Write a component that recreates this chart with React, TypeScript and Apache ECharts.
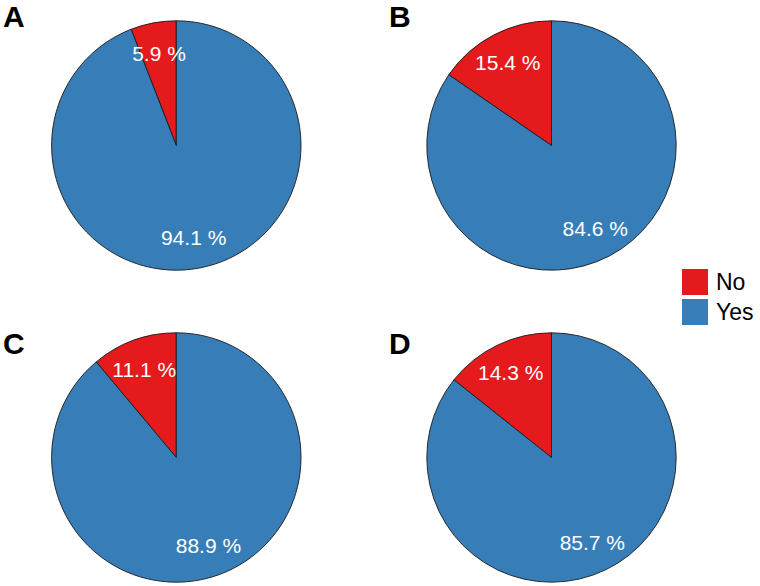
import React, { useEffect, useRef } from "react";
import * as echarts from "echarts";

const categories = ["No", "Yes"];
const panelLabels = ["A", "B", "C", "D"];
const noValues = [5.9, 15.4, 11.1, 14.3];
const yesValues = [94.1, 84.6, 88.9, 85.7];
const colors = ["#E41A1C", "#377EB8"];

const centers: [number, number][] = [
  [176.3, 145.5],
  [551.5, 145.5],
  [176.3, 457.5],
  [551.5, 457.5],
];
const letterPos: [number, number][] = [
  [3, 16],
  [389, 16],
  [3, 343],
  [389, 343],
];
const R = 124.7;
const FONT = "'Liberation Sans', Arial, Helvetica, sans-serif";

export default function App() {
  const ref = useRef<HTMLDivElement>(null);
  useEffect(() => {
    if (!ref.current) return;
    const chart = echarts.init(ref.current, null, { renderer: "svg" });
    const series: any[] = [];
    panelLabels.forEach((_, i) => {
      const data = categories.map((c, k) => ({
        name: c,
        value: k === 0 ? noValues[i] : yesValues[i],
        itemStyle: { color: colors[k] },
      }));
      series.push({
        type: "pie",
        center: centers[i],
        radius: [0, R],
        clockwise: false,
        startAngle: 90,
        silent: true,
        label: { show: false },
        labelLine: { show: false },
        itemStyle: { borderColor: "#1a1a1a", borderWidth: 0.9 },
        emphasis: { disabled: true },
        data,
      });
      series.push({
        type: "pie",
        center: centers[i],
        radius: [2 * 91 - R, R],
        clockwise: false,
        startAngle: 90,
        silent: true,
        avoidLabelOverlap: false,
        label: {
          show: true,
          position: "inside",
          color: "#ffffff",
          fontSize: 21,
          fontFamily: FONT,
          formatter: (p: any) => p.value.toFixed(1) + " %",
        },
        labelLine: { show: false },
        itemStyle: { color: "rgba(0,0,0,0)", borderWidth: 0 },
        emphasis: { disabled: true },
        data: categories.map((c, k) => ({
          name: c,
          value: k === 0 ? noValues[i] : yesValues[i],
        })),
      });
    });

    chart.setOption({
      animation: false,
      backgroundColor: "#ffffff",
      legend: {
        orient: "vertical",
        left: 677,
        top: 264,
        itemWidth: 26,
        itemHeight: 26,
        itemGap: 4,
        icon: "rect",
        selectedMode: false,
        data: categories.map((c, k) => ({
          name: c,
          itemStyle: { color: colors[k], borderWidth: 0, borderColor: "transparent" },
        })),
        textStyle: { fontSize: 23, fontFamily: FONT, color: "#000000", padding: [0, 0, 0, 3] },
      },
      graphic: panelLabels.map((t, i) => ({
        type: "text",
        x: letterPos[i][0],
        y: letterPos[i][1],
        style: {
          text: t,
          fontSize: 30,
          fontWeight: "bold",
          fontFamily: FONT,
          fill: "#000000",
          verticalAlign: "middle",
        },
      })),
      series,
    });
    return () => chart.dispose();
  }, []);
  return (
    <div
      ref={ref}
      style={{ position: "fixed", left: 0, top: 0, width: 760, height: 586, background: "#fff" }}
    />
  );
}
